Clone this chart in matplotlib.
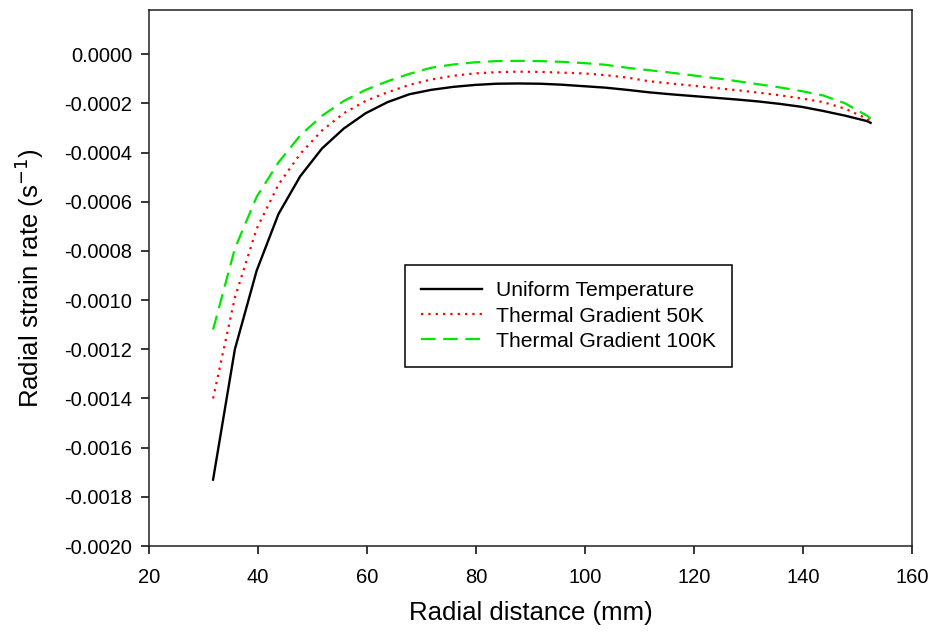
import numpy as np
import matplotlib.pyplot as plt

plt.rcParams['font.family'] = ['Liberation Sans', 'DejaVu Sans']

# radial positions (mm)
r = [31.75, 35.75, 39.75, 43.75, 47.75, 51.75, 55.75, 59.75, 63.75, 67.75,
     71.75, 75.75, 79.75, 83.75, 87.75, 91.75, 95.75, 99.75, 103.75, 107.75,
     111.75, 115.75, 119.75, 123.75, 127.75, 131.75, 135.75, 139.75, 143.75,
     147.75, 151.75, 152.4]

# radial strain rate (1/s)
uniform = [-0.00173, -0.00120, -0.00088, -0.00065, -0.000496, -0.000383,
           -0.000302, -0.000240, -0.000195, -0.000163, -0.000145, -0.000133,
           -0.000125, -0.000120, -0.000119, -0.000120, -0.000124, -0.000130,
           -0.000136, -0.000145, -0.000155, -0.000163, -0.000170, -0.000177,
           -0.000184, -0.000192, -0.000202, -0.000214, -0.000231, -0.000250,
           -0.000272, -0.000279]

grad50 = [-0.00140, -0.00099, -0.00071, -0.00053, -0.000405, -0.000310,
          -0.000240, -0.000190, -0.000155, -0.000125, -0.000103, -0.000088,
          -0.000078, -0.000073, -0.000071, -0.000072, -0.000075, -0.000078,
          -0.000085, -0.000095, -0.000110, -0.000119, -0.000128, -0.000137,
          -0.000146, -0.000156, -0.000167, -0.000180, -0.000195, -0.000222,
          -0.000262, -0.000274]

grad100 = [-0.00112, -0.00079, -0.00058, -0.00044, -0.00033, -0.000250,
           -0.000190, -0.000145, -0.000110, -0.000080, -0.000055, -0.000042,
           -0.000033, -0.000028, -0.000027, -0.000028, -0.000031, -0.000036,
           -0.000043, -0.000055, -0.000065, -0.000075, -0.000086, -0.000097,
           -0.000109, -0.000122, -0.000135, -0.000150, -0.000168, -0.000200,
           -0.000250, -0.000262]

yticks = [-0.0020, -0.0018, -0.0016, -0.0014, -0.0012, -0.0010,
          -0.0008, -0.0006, -0.0004, -0.0002, 0.0]
ytick_labels = ["-0.0020", "-0.0018", "-0.0016", "-0.0014", "-0.0012",
                "-0.0010", "-0.0008", "-0.0006", "-0.0004", "-0.0002",
                "0.0000"]

fig = plt.figure(figsize=(9.35, 6.42), dpi=100)
ax = fig.add_axes([0.1594, 0.1495, 0.816, 0.835])

ax.plot(r, uniform, color="black", lw=1.7, label="Uniform Temperature")
ax.plot(r, grad50, color="red", lw=1.6, dashes=(1, 2.3),
        label="Thermal Gradient 50K")
ax.plot(r, grad100, color="#00e600", lw=1.6, dashes=(6.5, 3.5),
        label="Thermal Gradient 100K")

ax.set_xlim(20, 160)
ax.set_ylim(-0.0020, 0.00018)
ax.set_xticks(np.arange(20, 161, 20))
ax.set_yticks(yticks)
ax.set_yticklabels(ytick_labels)

ax.tick_params(direction="out", length=6, width=1.1, labelsize=14.5,
               top=False, right=False)
ax.tick_params(axis="x", pad=10)
ax.tick_params(axis="y", pad=6)
for s in ax.spines.values():
    s.set_linewidth(1.1)
    s.set_color("#222222")

ax.set_xlabel("Radial distance (mm)", fontsize=18.5, labelpad=10)
ax.set_ylabel("Radial strain rate (s$^{-1}$)", fontsize=18.5, labelpad=13)

leg = ax.legend(loc="lower left", bbox_to_anchor=(0.3355, 0.3345),
                borderaxespad=0, fontsize=15.2, handlelength=2.9,
                handletextpad=0.65, borderpad=0.75, labelspacing=0.3,
                fancybox=False, framealpha=1)
leg.get_frame().set_edgecolor("black")
leg.get_frame().set_linewidth(1.1)

fig.savefig("out.png", dpi=100)
